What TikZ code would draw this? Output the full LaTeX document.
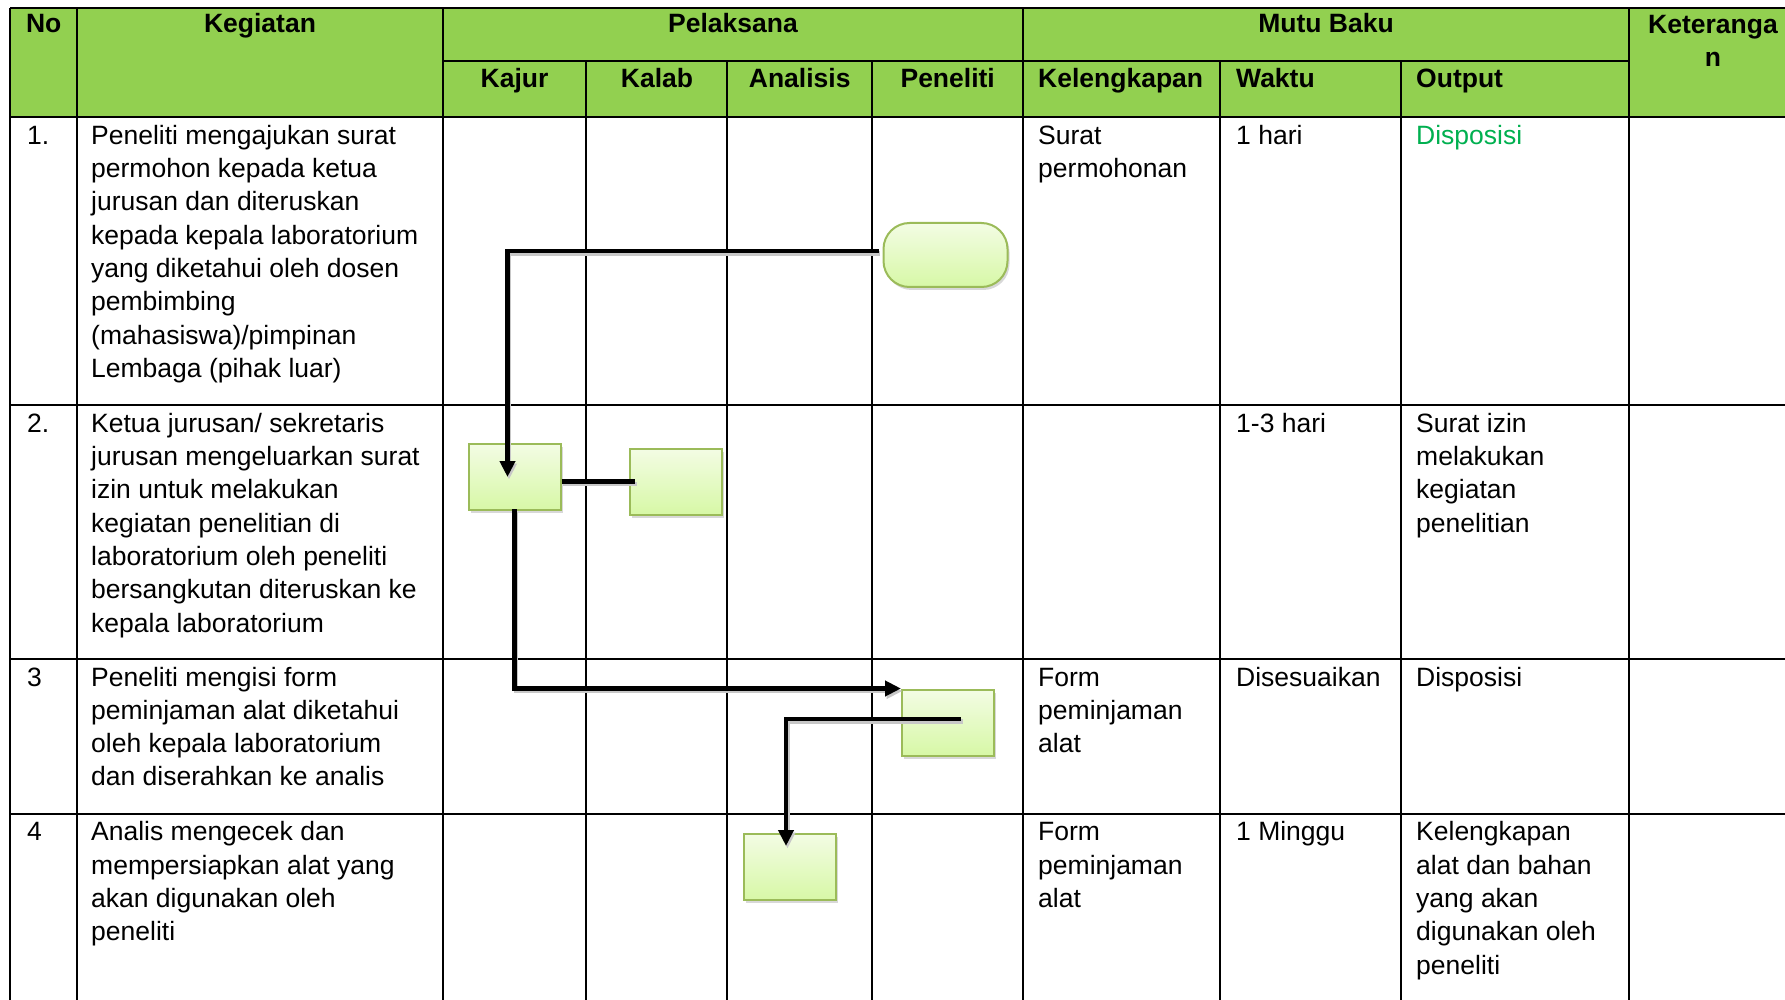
\documentclass[tikz,border=0pt]{standalone}
\usepackage{fontspec}
\setmainfont{Liberation Sans}
\usetikzlibrary{arrows.meta,shadows,calc}
\definecolor{hdr}{HTML}{92D050}
\definecolor{boxline}{HTML}{9BBB59}
\definecolor{boxtop}{HTML}{F3FCE4}
\definecolor{boxbot}{HTML}{D7F8A6}
\definecolor{okgreen}{HTML}{00B050}
\newcommand{\bodyfont}{\fontsize{26.5}{33.3}\selectfont}
\newcommand{\headfont}{\fontsize{26.5}{33.3}\selectfont\bfseries}
\begin{document}
\begin{tikzpicture}[x=1pt,y=-1pt,
  gridline/.style={line width=2pt},
  cell/.style={anchor=north west, inner sep=0pt, align=left, font=\bodyfont},
  hcell/.style={anchor=base, inner sep=0pt, font=\headfont},
  hleft/.style={anchor=base west, inner sep=0pt, font=\headfont},
  flowbox/.style={draw=boxline, line width=2pt, top color=boxtop, bottom color=boxbot,
    minimum width=92pt, minimum height=66pt, inner sep=0pt,
    drop shadow={shadow xshift=2pt, shadow yshift=-3pt, opacity=0.3}},
  term/.style={flowbox, rounded corners=26pt, minimum width=124pt, minimum height=64pt},
  link/.style={line width=4.8pt, draw=black,
    preaction={draw=black!22, line width=4.8pt, transform canvas={shift={(1.5pt,-2.5pt)}}}},
  conn/.style={link, -{Triangle[length=16pt,width=15pt]}}
]
\useasboundingbox (0,0) rectangle (1785,1000);
\clip (0,0) rectangle (1785,1000);
\fill[white] (0,0) rectangle (1785,1000);
% header fill
\fill[hdr] (10,8) rectangle (1800,117.3);
% horizontal lines
\draw[gridline] (10,8) -- (1800,8);
\draw[gridline] (442.8,61.5) -- (1629,61.5);
\draw[gridline] (10,117.3) -- (1800,117.3);
\draw[gridline] (10,405.3) -- (1800,405.3);
\draw[gridline] (10,659.1) -- (1800,659.1);
\draw[gridline] (10,814) -- (1800,814);
% vertical lines
\foreach \x in {10,77.4,442.8,1023.4,1629} \draw[gridline] (\x,8) -- (\x,1005);
\foreach \x in {586.3,727.4,872,1220.4,1401.4} \draw[gridline] (\x,61.5) -- (\x,1005);
% header text
\node[hcell] (hNo) at (43.7,33) {No};
\node[hcell] (hKeg) at (260,33) {Kegiatan};
\node[hcell] (hPel) at (733,33) {Pelaksana};
\node[hcell] (hMutu) at (1326,33) {Mutu Baku};
\node[anchor=north, inner sep=0pt, align=center, font=\headfont] (hKet) at (1713,9.7) {\strut Keteranga\\n};
\node[hcell] (hKajur) at (514.5,87.7) {Kajur};
\node[hcell] (hKalab) at (657,87.7) {Kalab};
\node[hcell] (hAna) at (799.7,87.7) {Analisis};
\node[hcell] (hPen) at (947.7,87.7) {Peneliti};
\node[hleft] (hKel) at (1038,87.7) {Kelengkapan};
\node[hleft] (hWak) at (1236,87.7) {Waktu};
\node[hleft] (hOut) at (1416,87.7) {Output};
% row 1
\node[cell] (n1) at (27,120.7) {\strut 1.};
\node[cell] (k1) at (91,120.7) {\strut Peneliti mengajukan surat\\permohon kepada ketua\\jurusan dan diteruskan\\kepada kepala laboratorium\\yang diketahui oleh dosen\\pembimbing\\(mahasiswa)/pimpinan\\Lembaga (pihak luar)};
\node[cell] (l1) at (1038,120.7) {\strut Surat\\permohonan};
\node[cell] (w1) at (1236,120.7) {\strut 1 hari};
\node[cell, text=okgreen] (o1) at (1416,120.7) {\strut Disposisi};
% row 2
\node[cell] (n2) at (27,408.7) {\strut 2.};
\node[cell] (k2) at (91,408.7) {\strut Ketua jurusan/ sekretaris\\jurusan mengeluarkan surat\\izin untuk melakukan\\kegiatan penelitian di\\laboratorium oleh peneliti\\bersangkutan diteruskan ke\\kepala laboratorium};
\node[cell] (w2) at (1236,408.7) {\strut 1-3 hari};
\node[cell] (o2) at (1416,408.7) {\strut Surat izin\\melakukan\\kegiatan\\penelitian};
% row 3
\node[cell] (n3) at (27,662.5) {\strut 3};
\node[cell] (k3) at (91,662.5) {\strut Peneliti mengisi form\\peminjaman alat diketahui\\oleh kepala laboratorium\\dan diserahkan ke analis};
\node[cell] (l3) at (1038,662.5) {\strut Form\\peminjaman\\alat};
\node[cell] (w3) at (1236,662.5) {\strut Disesuaikan};
\node[cell] (o3) at (1416,662.5) {\strut Disposisi};
% row 4
\node[cell] (n4) at (27,817.4) {\strut 4};
\node[cell] (k4) at (91,817.4) {\strut Analis mengecek dan\\mempersiapkan alat yang\\akan digunakan oleh\\peneliti};
\node[cell] (l4) at (1038,817.4) {\strut Form\\peminjaman\\alat};
\node[cell] (w4) at (1236,817.4) {\strut 1 Minggu};
\node[cell] (o4) at (1416,817.4) {\strut Kelengkapan\\alat dan bahan\\yang akan\\digunakan oleh\\peneliti};
% flow shapes
\node[term] (T) at (945.5,255) {};
\node[flowbox] (A) at (514.5,477) {};
\node[flowbox] (B) at (676,481.5) {};
\node[flowbox] (C) at (948,722.5) {};
\node[flowbox] (D) at (790,867) {};
% connectors
\draw[conn] ([xshift=-4pt,yshift=4pt]T.west) -| ([xshift=-7pt]A.center);
\draw[link] (A.east |- B.center) -- ([xshift=6pt]B.west);
\draw[conn] ([yshift=2pt]A.south) |- (C.north west);
\draw[conn] ([xshift=13pt,yshift=3.5pt]C.center) -| ([xshift=-4pt,yshift=-13pt]D.north);
\end{tikzpicture}
\end{document}
